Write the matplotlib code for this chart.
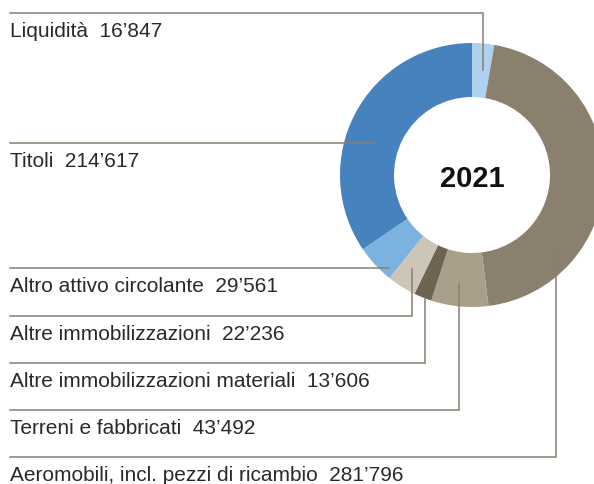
import matplotlib
matplotlib.use("Agg")
import matplotlib.pyplot as plt

# data, clockwise from 12 o'clock
labels = ["Liquidità", "Aeromobili, incl. pezzi di ricambio", "Terreni e fabbricati",
          "Altre immobilizzazioni materiali", "Altre immobilizzazioni",
          "Altro attivo circolante", "Titoli"]
values = [16847, 281796, 43492, 13606, 22236, 29561, 214617]
colors = ["#aed1ee", "#8b7f6d", "#a99e8a", "#6d6452", "#cdc5b8", "#7cb2de", "#4682bd"]
year = "2021"

# leader lines in pixel coords: (line y, x of corner, y of anchor in ring)
leaders = {
    "Liquidità": (14, 483, 71),
    "Titoli": (144, 374, 144),
    "Altro attivo circolante": (269, 389, 269),
    "Altre immobilizzazioni": (317, 412, 270),
    "Altre immobilizzazioni materiali": (364, 425, 300),
    "Terreni e fabbricati": (411, 459, 285),
    "Aeromobili, incl. pezzi di ricambio": (458, 556, 251),
}

W, H = 594, 485
fig = plt.figure(figsize=(W / 100, H / 100), dpi=100)
ax = fig.add_axes([0, 0, 1, 1])

cx, cy, R = 472, 176, 132
# y axis is inverted below, so startangle -90 / counterclock=True reads clockwise from top
ax.pie(values, colors=colors, startangle=-90, counterclock=True, center=(cx, cy),
       radius=R, wedgeprops=dict(width=54, linewidth=0))

ax.set_xlim(0, W)
ax.set_ylim(H, 0)
ax.set_aspect("equal")
ax.axis("off")

ax.text(cx, cy + 3, year, ha="center", va="center", fontsize=21, fontweight="bold",
        family="Liberation Sans", color="#111111")

line_col = "#8a7f70"
for lab, val in zip(labels, values):
    ly, lx, ay = leaders[lab]
    ax.plot([10, lx, lx], [ly, ly, ay], color=line_col, lw=1.1, solid_joinstyle="miter")
    txt = lab + "  " + f"{val:,}".replace(",", "\u2019")
    ax.text(10, ly + 23, txt, ha="left", va="baseline", fontsize=15,
            family="Liberation Sans", color="#2a2a2a")

fig.savefig("out.png", dpi=100)
